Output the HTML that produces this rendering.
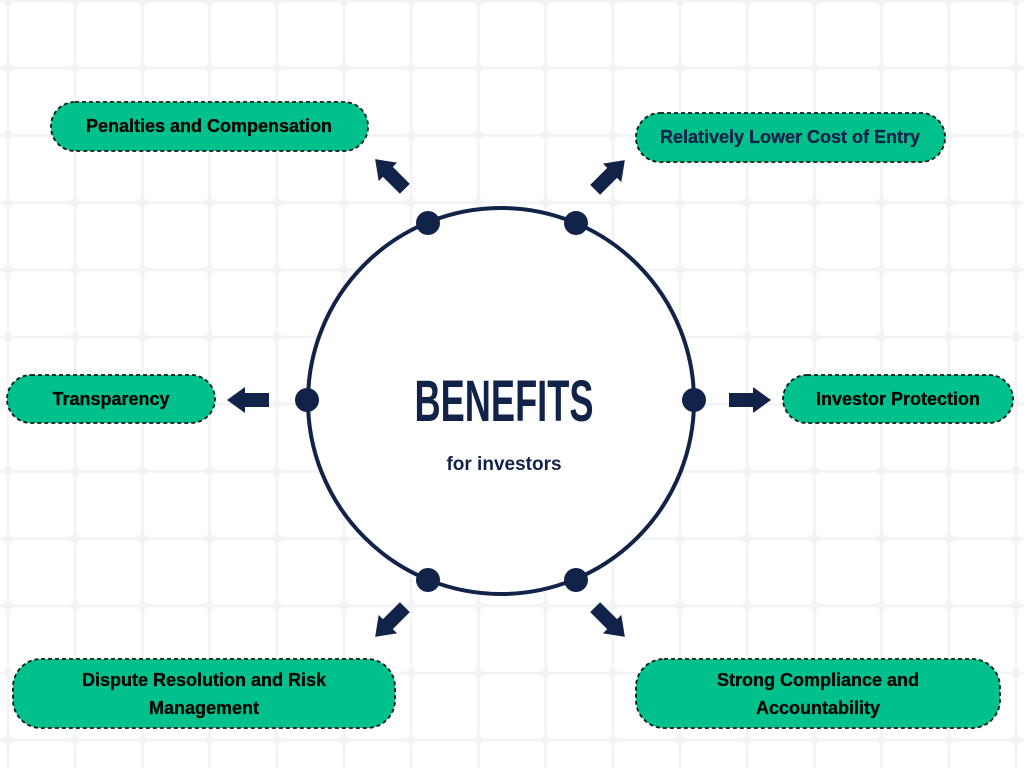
<!DOCTYPE html>
<html><head><meta charset="utf-8"><style>
html,body{margin:0;padding:0;width:1024px;height:768px;overflow:hidden;background:#fff}
</style></head><body>
<svg width="1024" height="768" viewBox="0 0 1024 768" xmlns="http://www.w3.org/2000/svg">
<defs>
<pattern id="g" x="8" y="1" width="67.2" height="67.2" patternUnits="userSpaceOnUse">
<rect width="67.2" height="67.2" fill="#f2f3f5"/>
<rect x="1.2" y="1.2" width="64.8" height="64.8" rx="6" fill="#fff"/>
</pattern>
<polygon id="ar" points="-21,-7 3,-7 3,-13 21,0 3,13 3,7 -21,7" fill="#12234a"/>
</defs>
<rect width="1024" height="768" fill="url(#g)"/>
<circle cx="501" cy="401" r="193" fill="#fff" stroke="#12234a" stroke-width="4"/>
<g fill="#12234a">
<circle cx="428" cy="223" r="12"/><circle cx="576" cy="223" r="12"/>
<circle cx="307" cy="400" r="12"/><circle cx="694" cy="400" r="12"/>
<circle cx="428" cy="580" r="12"/><circle cx="576" cy="580" r="12"/>
</g>
<use href="#ar" transform="translate(390,174) rotate(-135)"/>
<use href="#ar" transform="translate(610,175) rotate(-45)"/>
<use href="#ar" transform="translate(248,400) rotate(180)"/>
<use href="#ar" transform="translate(750,400)"/>
<use href="#ar" transform="translate(390,622) rotate(135)"/>
<use href="#ar" transform="translate(610,622) rotate(45)"/>
<text x="504" y="421" text-anchor="middle" font-family="Liberation Sans Narrow, Liberation Sans, sans-serif" font-weight="bold" font-size="58" fill="#12234a" textLength="179" lengthAdjust="spacingAndGlyphs">BENEFITS</text>
<text x="504" y="470" text-anchor="middle" font-family="Liberation Sans, sans-serif" font-weight="bold" font-size="19" fill="#12234a">for investors</text>
<g fill="#00c08b" stroke="#0b1a16" stroke-width="1.8" stroke-dasharray="4,3">
<rect x="51" y="102" width="317" height="49" rx="24"/>
<rect x="636" y="113" width="309" height="49" rx="24"/>
<rect x="7" y="375" width="208" height="48" rx="24"/>
<rect x="783" y="375" width="230" height="48" rx="24"/>
<rect x="13" y="659" width="382" height="69" rx="28"/>
<rect x="636" y="659" width="364" height="69" rx="28"/>
</g>
<g font-family="Liberation Sans, sans-serif" font-weight="bold" font-size="18" text-anchor="middle" fill="#050505" stroke="#050505" stroke-width="0.3">
<text x="209" y="132">Penalties and Compensation</text>
<text x="790" y="143" fill="#12234a" stroke="#12234a">Relatively Lower Cost of Entry</text>
<text x="111" y="405">Transparency</text>
<text x="898" y="405">Investor Protection</text>
<text x="204" y="686">Dispute Resolution and Risk</text>
<text x="204" y="714">Management</text>
<text x="818" y="686">Strong Compliance and</text>
<text x="818" y="714">Accountability</text>
</g>
</svg>
</body></html>
